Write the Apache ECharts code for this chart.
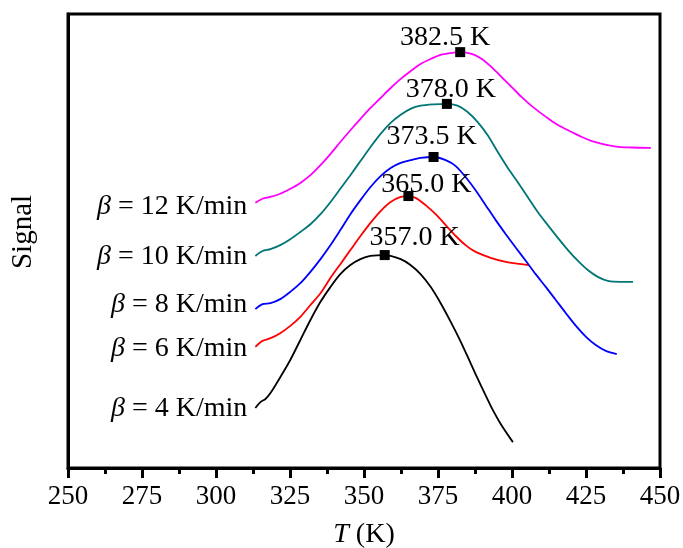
<!DOCTYPE html>
<html>
<head>
<meta charset="utf-8">
<script src="https://cdn.jsdelivr.net/npm/echarts@6/dist/echarts.min.js"></script>
<style>
  html, body { margin: 0; padding: 0; background: #ffffff; }
  #chart { width: 683px; height: 548px; }
</style>
</head>
<body>
<div id="chart"></div>
<script>
// Heating rates (K/min) and the peak temperatures found for each run
const rates = [4, 6, 8, 10, 12];
const peakT = [357.0, 365.0, 373.5, 378.0, 382.5];

// Temperature (K) and signal (arbitrary units) for each heating rate
const t4 = [313.3, 315.0, 316.7, 318.4, 321.7, 325.1, 328.5, 331.9, 335.3, 338.7, 342.0, 345.4, 348.8, 352.2, 357.0, 362.4, 365.7, 369.1, 372.5, 375.9, 379.3, 382.7, 386.0, 389.4, 392.8, 396.2, 400.3];
const s4 = [13.2, 14.5, 15.2, 16.5, 20.0, 23.8, 28.2, 32.6, 36.6, 39.9, 42.7, 44.7, 46.0, 46.7, 46.9, 46.0, 44.7, 42.7, 39.9, 36.3, 32.2, 27.8, 23.1, 18.3, 13.7, 9.7, 5.7];

const t6 = [313.3, 315.7, 318.4, 321.7, 325.1, 328.5, 331.9, 335.3, 338.7, 342.0, 345.4, 348.8, 352.2, 355.6, 359.0, 362.4, 365.0, 367.4, 370.8, 374.2, 377.6, 381.0, 384.3, 387.7, 392.8, 397.9, 405.7];
const s6 = [26.7, 28.0, 28.6, 29.7, 31.3, 33.3, 35.9, 38.5, 41.9, 44.9, 48.0, 51.1, 54.0, 56.6, 58.6, 59.7, 59.9, 59.5, 57.9, 55.9, 53.5, 51.1, 49.1, 47.6, 46.3, 45.4, 44.7];

const t8 = [313.3, 315.7, 318.4, 321.7, 325.1, 328.5, 331.9, 335.3, 338.7, 342.0, 345.4, 348.8, 352.2, 355.6, 359.0, 362.4, 365.7, 369.1, 373.5, 377.6, 381.0, 384.3, 387.7, 391.1, 394.5, 397.9, 401.3, 404.7, 408.0, 411.4, 414.8, 418.2, 421.6, 425.0, 428.3, 431.7, 435.4];
const s8 = [35.0, 36.1, 36.3, 37.2, 38.8, 40.7, 43.2, 46.0, 49.1, 52.4, 55.9, 59.0, 61.9, 64.3, 66.1, 67.2, 67.8, 68.3, 68.5, 67.8, 66.5, 64.1, 61.2, 57.9, 54.6, 51.5, 48.5, 45.6, 42.7, 39.9, 37.0, 34.1, 31.3, 28.9, 27.1, 25.8, 25.1];

const t10 = [313.3, 315.7, 318.4, 321.7, 325.1, 328.5, 331.9, 335.3, 338.7, 342.0, 345.4, 348.8, 352.2, 355.6, 359.0, 362.4, 365.7, 369.1, 373.5, 378.0, 381.6, 385.0, 388.4, 391.8, 395.2, 398.6, 401.9, 405.3, 408.7, 412.1, 415.5, 418.9, 422.3, 425.6, 429.0, 432.4, 436.8, 440.9];
const s10 = [46.7, 47.8, 48.2, 49.1, 50.4, 52.0, 53.7, 55.9, 58.6, 61.5, 64.5, 67.6, 70.7, 73.6, 76.0, 77.8, 79.1, 79.8, 80.1, 80.2, 79.8, 78.4, 76.2, 73.3, 69.6, 66.1, 63.0, 59.7, 56.4, 53.5, 50.7, 48.0, 45.6, 43.6, 42.1, 41.2, 41.0, 41.0];

const t12 = [313.3, 315.7, 318.4, 321.7, 325.1, 328.5, 331.9, 335.3, 338.7, 342.0, 345.4, 348.8, 352.2, 355.6, 359.0, 362.4, 365.7, 369.1, 372.5, 375.9, 379.3, 382.5, 386.4, 389.8, 393.1, 396.5, 399.9, 403.3, 406.7, 410.1, 413.5, 416.8, 420.2, 423.6, 427.0, 430.4, 435.1, 440.2, 446.9];
const s12 = [58.4, 59.3, 59.7, 60.4, 61.5, 62.8, 64.5, 66.7, 69.2, 71.8, 74.4, 76.9, 79.3, 81.5, 83.7, 85.7, 87.4, 89.0, 90.1, 91.0, 91.4, 91.6, 91.2, 90.1, 88.3, 86.1, 83.9, 81.7, 79.7, 78.0, 76.4, 75.1, 74.0, 72.9, 72.0, 71.4, 70.8, 70.6, 70.5];

// Axis ticks
const xTicks = [250, 275, 300, 325, 350, 375, 400, 425, 450];

const runs = [
  { rate: rates[0], t: t4,  s: s4,  peak: peakT[0], color: '#000000', peakOffset: [30, 7],   rateOffset: [0, 1] },
  { rate: rates[1], t: t6,  s: s6,  peak: peakT[1], color: '#ff0000', peakOffset: [18, 13],  rateOffset: [0, 2] },
  { rate: rates[2], t: t8,  s: s8,  peak: peakT[2], color: '#0000ff', peakOffset: [-2, 4],   rateOffset: [0, -4] },
  { rate: rates[3], t: t10, s: s10, peak: peakT[3], color: '#007575', peakOffset: [4, 10],   rateOffset: [0, 1] },
  { rate: rates[4], t: t12, s: s12, peak: peakT[4], color: '#ff00ff', peakOffset: [-15, 10], rateOffset: [0, 4] }
];

const FONT = '"Liberation Serif", "Times New Roman", serif';

const series = [];
runs.forEach(function (r) {
  const pts = r.t.map(function (x, i) { return [x, r.s[i]]; });
  series.push({
    type: 'line',
    data: pts,
    smooth: 0.3,
    showSymbol: false,
    lineStyle: { color: r.color, width: 1.8 },
    z: 3
  });
  const pi = r.t.indexOf(r.peak);
  series.push({
    type: 'scatter',
    z: 5,
    itemStyle: { color: '#000', opacity: 1 },
    data: [
      {
        value: pts[0],
        symbolSize: 0,
        label: {
          show: true,
          position: 'left',
          distance: 8,
          offset: r.rateOffset,
          formatter: '{i|\u03b2} = ' + r.rate + ' K/min',
          color: '#000',
          fontFamily: FONT,
          fontSize: 28,
          rich: { i: { fontStyle: 'italic', fontFamily: FONT, fontSize: 28, color: '#000' } }
        }
      },
      {
        value: pts[pi],
        symbol: 'rect',
        symbolSize: 10,
        itemStyle: { color: '#000', opacity: 1 },
        label: {
          show: true,
          position: 'top',
          distance: 5,
          offset: r.peakOffset,
          formatter: r.peak.toFixed(1) + ' K',
          color: '#000',
          fontFamily: FONT,
          fontSize: 28
        }
      }
    ]
  });
});

const chart = echarts.init(document.getElementById('chart'));
chart.setOption({
  animation: false,
  backgroundColor: '#ffffff',
  grid: {
    left: 68, right: 23, top: 14, bottom: 80,
    containLabel: false,
    outerBoundsMode: 'none',
    show: true,
    borderColor: '#000',
    borderWidth: 3
  },
  xAxis: {
    type: 'value',
    min: xTicks[0],
    max: xTicks[xTicks.length - 1],
    interval: xTicks[1] - xTicks[0],
    name: '{i|T} (K)',
    nameLocation: 'middle',
    nameGap: 53,
    nameTextStyle: {
      color: '#000', fontFamily: FONT, fontSize: 28,
      rich: { i: { fontStyle: 'italic', fontFamily: FONT, fontSize: 28, color: '#000' } }
    },
    axisLine: { show: true, onZero: false, lineStyle: { color: '#000', width: 3 } },
    axisTick: { show: true, inside: false, length: 10, lineStyle: { color: '#000', width: 3 } },
    minorTick: { show: true, splitNumber: 2, length: 6, lineStyle: { color: '#000', width: 3 } },
    axisLabel: { color: '#000', fontFamily: FONT, fontSize: 27, margin: 15 },
    splitLine: { show: false }
  },
  yAxis: {
    type: 'value',
    min: 0,
    max: 100,
    name: 'Signal',
    nameLocation: 'middle',
    nameGap: 30,
    nameTextStyle: { color: '#000', fontFamily: FONT, fontSize: 29, padding: [0, 0, 0, 18] },
    axisLine: { show: true, onZero: false, lineStyle: { color: '#000', width: 3 } },
    axisTick: { show: false },
    axisLabel: { show: false },
    splitLine: { show: false }
  },
  series: series
});
</script>
</body>
</html>
